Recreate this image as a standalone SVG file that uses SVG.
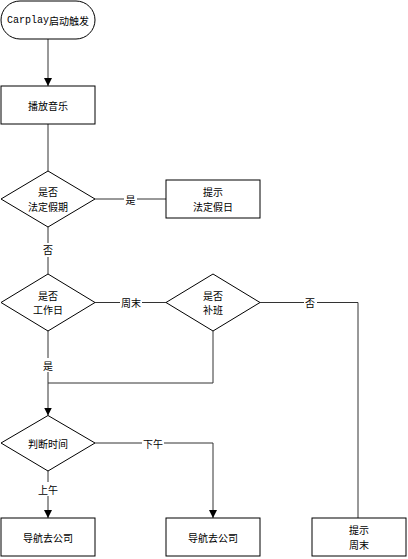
<svg xmlns="http://www.w3.org/2000/svg" width="408" height="559" viewBox="0 0 408 559">
<style>
.s{fill:#fff;stroke:#000;stroke-width:1}
.t{font-family:"Noto Sans CJK SC","Liberation Sans",sans-serif;font-size:10px;fill:#000;text-anchor:middle;dominant-baseline:central}
.m{font-family:"Liberation Mono",monospace}
.c{fill:none;stroke:#333;stroke-width:1}
.lb{fill:#fff}
</style>
<defs>
<marker id="a" viewBox="0 0 10 10" refX="10" refY="5" markerWidth="8" markerHeight="8" markerUnits="userSpaceOnUse" orient="auto">
<path d="M0,0 L10,5 L0,10 z" fill="#000"/>
</marker>
</defs>
<g id="connectors">
<path class="c" d="M48,39 V86" marker-end="url(#a)"/>
<path class="c" d="M48,124 V171"/>
<path class="c" d="M95,199 H166"/>
<path class="c" d="M48,227 V274"/>
<path class="c" d="M95,302.5 H166"/>
<path class="c" d="M260,302.5 H358 V518"/>
<path class="c" d="M48,331 V415.5" marker-end="url(#a)"/>
<path class="c" d="M213,331 V383 H48"/>
<path class="c" d="M95,443 H213 V518" marker-end="url(#a)"/>
<path class="c" d="M48,471 V518" marker-end="url(#a)"/>
<rect class="lb" x="124" y="192" width="13" height="14"/>
<text class="t" x="130.5" y="199">是</text>
<rect class="lb" x="42" y="243" width="13" height="14"/>
<text class="t" x="48" y="249">否</text>
<rect class="lb" x="120" y="296" width="22" height="14"/>
<text class="t" x="131" y="302.5">周末</text>
<rect class="lb" x="304" y="296" width="13" height="14"/>
<text class="t" x="310" y="302.5">否</text>
<rect class="lb" x="42" y="358" width="13" height="14"/>
<text class="t" x="48" y="365">是</text>
<rect class="lb" x="142" y="436" width="22" height="14"/>
<text class="t" x="153" y="443">下午</text>
<rect class="lb" x="37" y="482" width="22" height="14"/>
<text class="t" x="48" y="489">上午</text>
</g>
<g id="start">
<rect class="s" x="1" y="1" width="94" height="38" rx="19" ry="19"/>
<text class="t" x="48" y="20"><tspan class="m">Carplay</tspan>启动触发</text>
</g>
<g id="play">
<rect class="s" x="1" y="86" width="94" height="38"/>
<text class="t" x="48" y="105">播放音乐</text>
</g>
<g id="holiday">
<path class="s" d="M48,171 L95,199 L48,227 L1,199 z"/>
<text class="t" x="48" y="191.5">是否</text>
<text class="t" x="48" y="206">法定假期</text>
</g>
<g id="tipHoliday">
<rect class="s" x="166" y="180" width="94" height="38"/>
<text class="t" x="213" y="191.5">提示</text>
<text class="t" x="213" y="206">法定假日</text>
</g>
<g id="workday">
<path class="s" d="M48,274 L95,302.5 L48,331 L1,302.5 z"/>
<text class="t" x="48" y="295">是否</text>
<text class="t" x="48" y="309.5">工作日</text>
</g>
<g id="makeup">
<path class="s" d="M213,274 L260,302.5 L213,331 L166,302.5 z"/>
<text class="t" x="213" y="295">是否</text>
<text class="t" x="213" y="309.5">补班</text>
</g>
<g id="time">
<path class="s" d="M48,415.5 L95,443 L48,471 L1,443 z"/>
<text class="t" x="48" y="443">判断时间</text>
</g>
<g id="nav1">
<rect class="s" x="1" y="518" width="94" height="38"/>
<text class="t" x="48" y="537">导航去公司</text>
</g>
<g id="nav2">
<rect class="s" x="166" y="518" width="94" height="38"/>
<text class="t" x="213" y="537">导航去公司</text>
</g>
<g id="tipWeekend">
<rect class="s" x="312" y="518" width="94" height="38"/>
<text class="t" x="359" y="529.5">提示</text>
<text class="t" x="359" y="544">周末</text>
</g>
</svg>
